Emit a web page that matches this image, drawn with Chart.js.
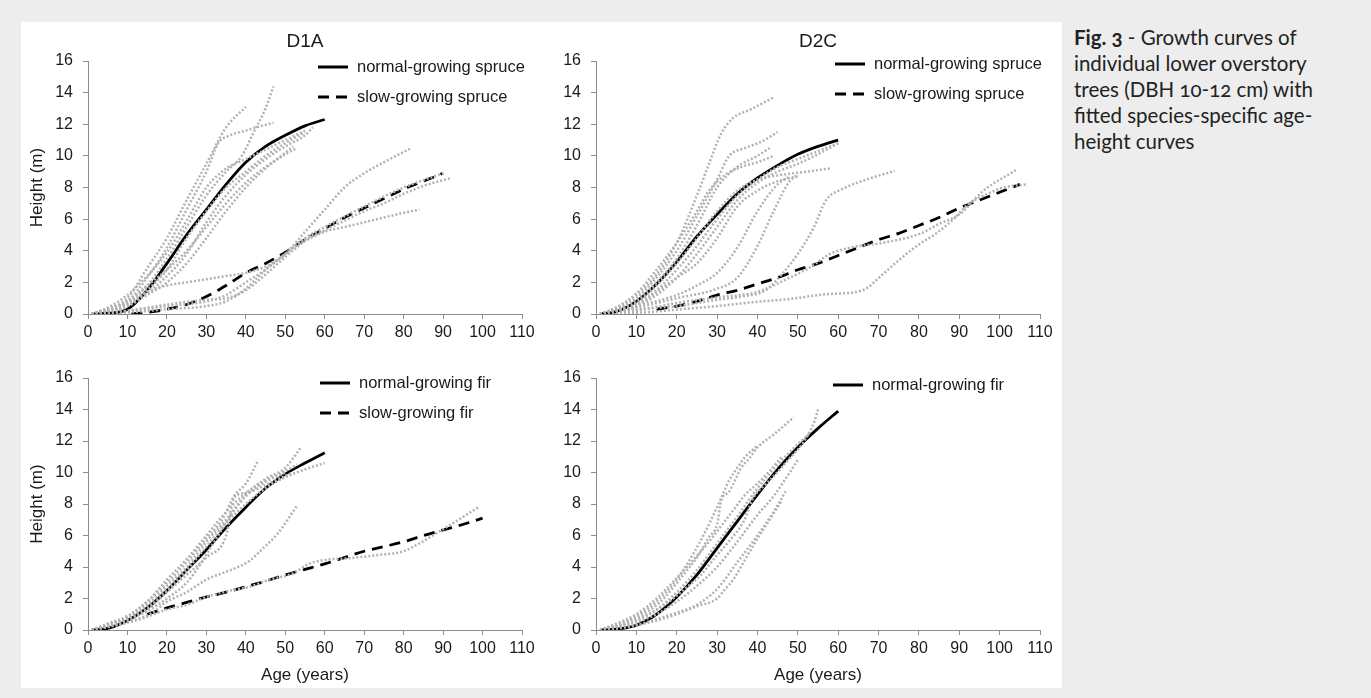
<!DOCTYPE html>
<html>
<head>
<meta charset="utf-8">
<title>Fig. 3 - Growth curves</title>
<script src="https://cdn.jsdelivr.net/npm/chart.js@4.4.1/dist/chart.umd.min.js"></script>
<style>
  body { margin: 0; width: 1371px; height: 698px; overflow: hidden; background: #ededed; }
  #panel { position: absolute; left: 21px; top: 22px; width: 1041px; height: 666px; background: #fff; }
  canvas { position: absolute; }
  #caption { position: absolute; left: 1074px; top: 24px; width: 296px; font-family: Lato, "Open Sans", sans-serif;
             font-size: 20.5px; line-height: 26px; color: #222; font-variant-numeric: oldstyle-nums; }
</style>
</head>
<body>
<div id="panel"></div>
<canvas id="tl" width="520" height="333" style="left:21px;top:22px"></canvas>
<canvas id="tr" width="521" height="333" style="left:541px;top:22px"></canvas>
<canvas id="bl" width="520" height="333" style="left:21px;top:355px"></canvas>
<canvas id="br" width="521" height="333" style="left:541px;top:355px"></canvas>
<div id="caption"><b>Fig. 3</b> - Growth curves of<br>individual lower overstory<br>trees (DBH 10-12 cm) with<br>fitted species-specific age-<br>height curves</div>

<script>
// ---- fitted curves (age, height) ----
const ages60 = [1, 5, 10, 15, 20, 25, 30, 35, 40, 45, 50, 55, 60];

const d1aNormalSpruce = [0, 0.05, 0.3, 1.5, 3.2, 5.0, 6.6, 8.2, 9.6, 10.6, 11.3, 11.9, 12.3];
const d1aSlowAges = [11, 15, 20, 25, 30, 35, 40, 45, 50, 55, 60, 65, 70, 75, 80, 85, 90];
const d1aSlowSpruce = [0, 0.1, 0.3, 0.6, 1.1, 1.8, 2.6, 3.2, 3.9, 4.7, 5.4, 6.1, 6.7, 7.3, 7.9, 8.4, 8.9];

const d2cNormalSpruce = [0, 0.15, 0.8, 1.9, 3.3, 4.9, 6.3, 7.6, 8.6, 9.4, 10.1, 10.6, 11.0];
const d2cSlowAges = [15, 20, 25, 30, 35, 40, 45, 50, 55, 60, 65, 70, 75, 80, 85, 90, 95, 100, 105];
const d2cSlowSpruce = [0.3, 0.5, 0.8, 1.2, 1.5, 1.9, 2.3, 2.8, 3.2, 3.7, 4.2, 4.7, 5.1, 5.6, 6.1, 6.7, 7.2, 7.7, 8.2];

const d1aNormalFir = [0, 0.1, 0.6, 1.4, 2.5, 3.8, 5.1, 6.5, 7.8, 9.0, 9.9, 10.6, 11.25];
const d1aSlowFirAges = [15, 20, 25, 30, 35, 40, 45, 50, 55, 60, 65, 70, 75, 80, 85, 90, 95, 100];
const d1aSlowFir = [1.0, 1.4, 1.75, 2.1, 2.4, 2.75, 3.1, 3.5, 3.85, 4.2, 4.6, 5.0, 5.3, 5.6, 6.0, 6.35, 6.7, 7.1];

const d2cNormalFir = [0, 0.05, 0.3, 1.0, 2.1, 3.5, 5.2, 6.9, 8.6, 10.2, 11.6, 12.8, 13.9];

// ---- individual trees, [age, height] ----
const d1aSpruceTrees = [
  [[1,0],[5,0.3],[10,1],[15,2.9],[20,4.8],[25,7.2],[30,9.5],[35,11.8],[40,13.1]],
  [[1,0],[5,0.3],[10,0.8],[15,2.3],[20,4.2],[25,6.6],[30,9],[33,10.8],[36,11.3],[40,11.6],[44,11.9],[47,12.1]],
  [[1,0],[5,0.3],[10,0.7],[15,1.8],[20,3.5],[25,5.5],[30,7.5],[35,9],[39,10],[42,11.5],[45,13],[47,14.4]],
  [[1,0],[5,0.3],[10,0.8],[15,1.8],[20,2.8],[25,4],[30,5.5],[35,7],[40,8.3],[45,9.3],[50,10.1],[53,10.5]],
  [[1,0],[5,0.3],[10,0.6],[15,1.3],[20,2.4],[25,3.8],[30,5.8],[35,7.5],[40,8.8],[45,9.8],[50,10.6],[55,11.3],[57,11.8]],
  [[1,0],[5,0.2],[10,0.5],[15,1.5],[20,2.8],[25,4.8],[30,6.5],[35,8],[40,9],[45,10],[50,10.8],[55,11.5]],
  [[1,0],[5,0.2],[10,0.5],[15,1.2],[20,2],[25,3.2],[30,4.8],[35,6.5],[40,8],[45,9.2],[50,10.2],[52,10.6]],
  [[1,0],[5,0.4],[10,1.2],[15,2.4],[20,3.9],[25,5.9],[30,8],[35,9.2],[40,9.8],[45,10.4],[50,11],[55,11.6]],
  [[1,0],[5,0.3],[10,0.7],[15,1.4],[20,1.8],[25,2],[30,2.2],[35,2.4],[40,2.6],[45,3],[50,3.8],[55,5.2],[60,6.6],[65,8],[70,8.9],[75,9.6],[82,10.5]],
  [[1,0],[10,0.2],[20,0.5],[30,0.8],[35,1.2],[40,2],[45,2.8],[50,3.8],[55,4.7],[60,5.3],[65,5.9],[70,6.5],[75,7],[80,7.6],[85,8.1],[92,8.6]],
  [[1,0],[10,0.2],[20,0.6],[30,0.9],[35,1],[40,1.5],[45,2.5],[50,3.6],[55,4.6],[60,5.2],[65,5.5],[70,5.8],[75,6.1],[80,6.4],[84,6.6]],
  [[1,0],[10,0.1],[20,0.3],[30,0.5],[35,0.8],[40,1.6],[45,2.8],[50,3.8],[55,4.8],[60,5.5],[70,6.8],[80,8],[90,8.9]]
];

const d2cSpruceTrees = [
  [[1,0],[5,0.4],[10,1.2],[15,2.5],[20,4.5],[25,7.5],[28,9.5],[31,11.4],[34,12.4],[38,12.9],[44,13.7]],
  [[1,0],[5,0.3],[10,1],[15,2.3],[20,4],[25,6.2],[30,8.5],[33,10],[37,10.5],[41,10.9],[45,11.5]],
  [[1,0],[5,0.3],[10,0.8],[15,2],[20,3.5],[25,5.6],[30,8],[35,9.3],[40,10],[43,10.5]],
  [[1,0],[5,0.2],[10,0.7],[15,1.8],[20,3.2],[25,4.8],[30,6.5],[35,7.8],[40,8.5],[46,8.8],[52,9],[58,9.2]],
  [[1,0],[5,0.2],[10,0.6],[15,1.5],[20,2.8],[25,4.3],[30,6],[35,7.5],[40,8.5],[45,9.3],[50,9.8],[55,10.3],[60,10.8]],
  [[1,0],[10,0.3],[20,0.5],[30,0.9],[36,1.1],[42,1.5],[46,2.5],[50,3.8],[54,5.5],[57,7.2],[61,7.9],[67,8.5],[74,9.05]],
  [[1,0],[10,0.4],[20,1],[30,1.6],[35,2.3],[40,4.3],[44,6.5],[48,8.4],[50,8.8]],
  [[1,0],[10,0.5],[20,1.2],[25,1.8],[30,2.6],[35,4.2],[40,6.5],[45,8.2],[48,8.7]],
  [[1,0],[10,0.2],[20,0.7],[30,1.05],[40,1.4],[48,2.3],[53,2.95],[58,3.8],[63,4.2],[71,4.5],[80,5.05],[85,5.7],[90,6.3],[96,7.8],[104,9.1]],
  [[1,0],[12,0.1],[21,0.3],[30,0.5],[39,0.75],[48,0.95],[57,1.25],[66,1.5],[71,2.5],[75,3.4],[80,4.4],[84,5.05],[89,6.1],[92,6.9],[97,7.6],[101,8],[107,8.2]],
  [[1,0],[5,0.4],[10,1.3],[15,2.8],[20,4.5],[25,6.5],[28,7.8],[32,8.8],[36,9.3],[40,9.6],[44,10]],
  [[1,0],[5,0.2],[10,0.5],[15,1.2],[20,2.3],[25,3.8],[30,5.5],[35,7.2],[40,8.3],[45,9],[50,9.5],[55,10.1],[60,10.8]],
  [[1,0],[10,0.5],[15,1.4],[20,2.3],[25,3.2],[30,4.8],[35,6.8],[40,7.8],[45,8.4],[50,8.7]]
];

const d1aFirTrees = [
  [[1,0],[5,0.4],[10,0.9],[15,1.8],[20,3],[25,4.3],[30,5.8],[34,7],[37,8.5],[40,9.3],[43,10.7]],
  [[1,0],[5,0.4],[10,0.8],[15,1.6],[20,2.8],[25,4],[30,5.6],[35,7],[40,8.6],[45,9.6],[50,10.3],[54,11.6]],
  [[1,0],[5,0.3],[10,0.7],[15,1.4],[20,2.5],[25,3.8],[30,5.3],[35,6.8],[40,8],[45,9],[50,9.7],[55,10.2],[60,10.6]],
  [[1,0],[5,0.3],[10,0.8],[15,1.8],[20,3.2],[25,4.5],[30,6],[35,7.5],[40,8.7],[45,9.5],[50,10.1],[53,10.5]],
  [[1,0],[5,0.2],[10,0.6],[15,1.3],[20,2.4],[25,3.5],[30,4.6],[35,6],[37,8.4],[40,8.7],[45,9.2],[50,9.8],[52,10]],
  [[1,0],[5,0.2],[10,0.5],[16,1.05],[20,1.8],[25,2.4],[30,3.2],[34,3.6],[38,4],[41,4.4],[44,5.1],[48,6.1],[53,7.9]],
  [[1,0],[9,0.4],[14,0.75],[20,1.3],[25,1.6],[30,2.1],[36,2.5],[41,2.75],[46,3.2],[52,3.6],[56,4.2],[60,4.45],[66,4.55],[73,4.75],[80,5],[84,5.5],[91,6.55],[99,7.8]],
  [[1,0],[5,0.3],[10,0.7],[15,1.2],[20,2],[25,3],[28,4],[30,4.8],[33,6],[36,7.2],[40,8.5],[45,9.4],[50,10]]
];

const d2cFirTrees = [
  [[1,0],[8,0.57],[13,1.2],[17,2.05],[21,3.3],[25,4.6],[28,5.9],[30,6.7],[31,8.2],[33,8.8],[36,10.3],[38,10.9],[40,11.6],[44,12.4],[49,13.5]],
  [[1,0],[8,0.5],[13,1],[17,1.6],[21.5,2.5],[26,3.5],[29.5,4.6],[33,5.65],[36.6,6.9],[39,8.4],[42,9.25],[44.5,9.9],[48,10.9],[51.6,12],[54.2,13.3],[55,14]],
  [[1,0],[5,0.2],[10,0.6],[15,1.3],[20,2.4],[25,3.8],[30,5.5],[35,7.2],[40,9],[45,10.5],[50,11.8],[53,12.5]],
  [[1,0],[5,0.2],[10,0.5],[15,1],[20,1.8],[25,2.8],[30,4],[35,5.6],[40,7.3],[44,8.5],[48,10],[50,10.8]],
  [[1,0],[5,0.1],[10,0.3],[15,0.7],[20,1.1],[25,1.6],[30,2.6],[35,4.3],[40,6],[44,7.5],[47,8.8]],
  [[1,0],[5,0.1],[10,0.3],[15,0.6],[20,1],[25,1.5],[30,2],[32,2.6],[34,3.2],[37,4.5],[40,5.8],[43,7],[46,8.2]],
  [[1,0],[5,0.3],[10,0.9],[15,1.8],[20,3.2],[24,4.8],[27,6.2],[30,7.8],[33,9.5],[35,10.3],[37,11],[40,11.7]],
  [[1,0],[5,0.4],[10,1],[15,2],[20,3.3],[25,4.7],[28,5.6],[31,6.6],[34,7.6],[37,8.6],[40,9.3],[43,10.1],[46,11]]
];

const GRAY = '#b2b2b2';
const AXIS = '#8c8c8c';
const FONT = '"Liberation Sans", Arial, sans-serif';

Chart.defaults.font.family = FONT;
Chart.defaults.color = '#1a1a1a';

function treeSets(trees) {
    return trees.map(t => ({
        data: t.map(p => ({ x: p[0], y: p[1] })),
        borderColor: GRAY,
        borderWidth: 2.5,
        borderDash: [2, 2],
        pointRadius: 0,
        showLine: true,
        cubicInterpolationMode: 'monotone'
    }));
}

function fitSet(label, ages, heights, dashed) {
    return {
        label,
        fit: true,
        data: ages.map((a, i) => ({ x: a, y: heights[i] })),
        borderColor: '#000',
        borderWidth: 2.8,
        borderDash: dashed ? [11, 7] : [],
        pointRadius: 0,
        showLine: true,
        cubicInterpolationMode: 'monotone'
    };
}

// panel title + legend drawn inside the plot, like the original figure
const panelDecor = {
    id: 'panelDecor',
    afterDraw(chart, args, opts) {
        const { ctx, chartArea } = chart;
        ctx.save();
        ctx.fillStyle = '#1a1a1a';
        ctx.textBaseline = 'middle';
        if (opts.title) {
            ctx.font = '19px ' + FONT;
            ctx.textAlign = 'center';
            ctx.fillText(opts.title, (chartArea.left + chartArea.right) / 2, opts.titleY);
        }
        ctx.font = '16.5px ' + FONT;
        ctx.textAlign = 'left';
        chart.data.datasets.filter(d => d.fit).forEach((d, i) => {
            const y = opts.legendY + i * opts.rowGap;
            ctx.beginPath();
            ctx.setLineDash(d.borderDash);
            ctx.lineWidth = 3;
            ctx.strokeStyle = '#000';
            ctx.moveTo(opts.legendX, y);
            ctx.lineTo(opts.legendX + 30, y);
            ctx.stroke();
            ctx.fillText(d.label, opts.legendX + 39, y);
        });
        ctx.restore();
    }
};

function makeChart(id, o) {
    const axisGrid = { drawOnChartArea: false, drawTicks: true, tickLength: 5, color: AXIS, lineWidth: 1 };
    return new Chart(document.getElementById(id), {
        type: 'scatter',
        data: { datasets: [...treeSets(o.trees), ...o.fits] },
        options: {
            responsive: false,
            animation: false,
            devicePixelRatio: 1,
            layout: { padding: o.padding },
            plugins: {
                legend: { display: false },
                tooltip: { enabled: false },
                panelDecor: o.decor
            },
            scales: {
                x: {
                    type: 'linear', min: 0, max: 110,
                    grid: axisGrid,
                    border: { color: AXIS },
                    ticks: { stepSize: 10, maxTicksLimit: 20, autoSkip: false, padding: 4, font: { size: 16 } },
                    title: { display: !!o.xTitle, text: 'Age (years)', font: { size: 17 }, padding: { top: 0, bottom: 2 } },
                    afterFit: s => { s.height = o.xHeight; }
                },
                y: {
                    type: 'linear', min: 0, max: 16,
                    grid: axisGrid,
                    border: { color: AXIS },
                    ticks: { stepSize: 2, padding: 10, font: { size: 16 } },
                    title: { display: !!o.yTitle, text: 'Height (m)', font: { size: 17 }, padding: { top: 6, bottom: 0 } },
                    afterFit: s => { s.width = o.yWidth; }
                }
            }
        },
        plugins: [panelDecor]
    });
}

makeChart('tl', {
    trees: d1aSpruceTrees,
    fits: [
        fitSet('normal-growing spruce', ages60, d1aNormalSpruce, false),
        fitSet('slow-growing spruce', d1aSlowAges, d1aSlowSpruce, true)
    ],
    padding: { top: 39, right: 19, left: 0, bottom: 0 },
    yWidth: 67, xHeight: 41, yTitle: true,
    decor: { title: 'D1A', titleY: 20, legendX: 297, legendY: 45, rowGap: 30 }
});

makeChart('tr', {
    trees: d2cSpruceTrees,
    fits: [
        fitSet('normal-growing spruce', ages60, d2cNormalSpruce, false),
        fitSet('slow-growing spruce', d2cSlowAges, d2cSlowSpruce, true)
    ],
    padding: { top: 39, right: 22, left: 0, bottom: 0 },
    yWidth: 55, xHeight: 41,
    decor: { title: 'D2C', titleY: 20, legendX: 294, legendY: 42, rowGap: 30 }
});

makeChart('bl', {
    trees: d1aFirTrees,
    fits: [
        fitSet('normal-growing fir', ages60, d1aNormalFir, false),
        fitSet('slow-growing fir', d1aSlowFirAges, d1aSlowFir, true)
    ],
    padding: { top: 23, right: 19, left: 0, bottom: 0 },
    yWidth: 67, xHeight: 58, yTitle: true, xTitle: true,
    decor: { legendX: 299, legendY: 28, rowGap: 30 }
});

makeChart('br', {
    trees: d2cFirTrees,
    fits: [
        fitSet('normal-growing fir', ages60, d2cNormalFir, false)
    ],
    padding: { top: 23, right: 22, left: 0, bottom: 0 },
    yWidth: 55, xHeight: 58, xTitle: true,
    decor: { legendX: 292, legendY: 30, rowGap: 30 }
});
</script>
</body>
</html>
